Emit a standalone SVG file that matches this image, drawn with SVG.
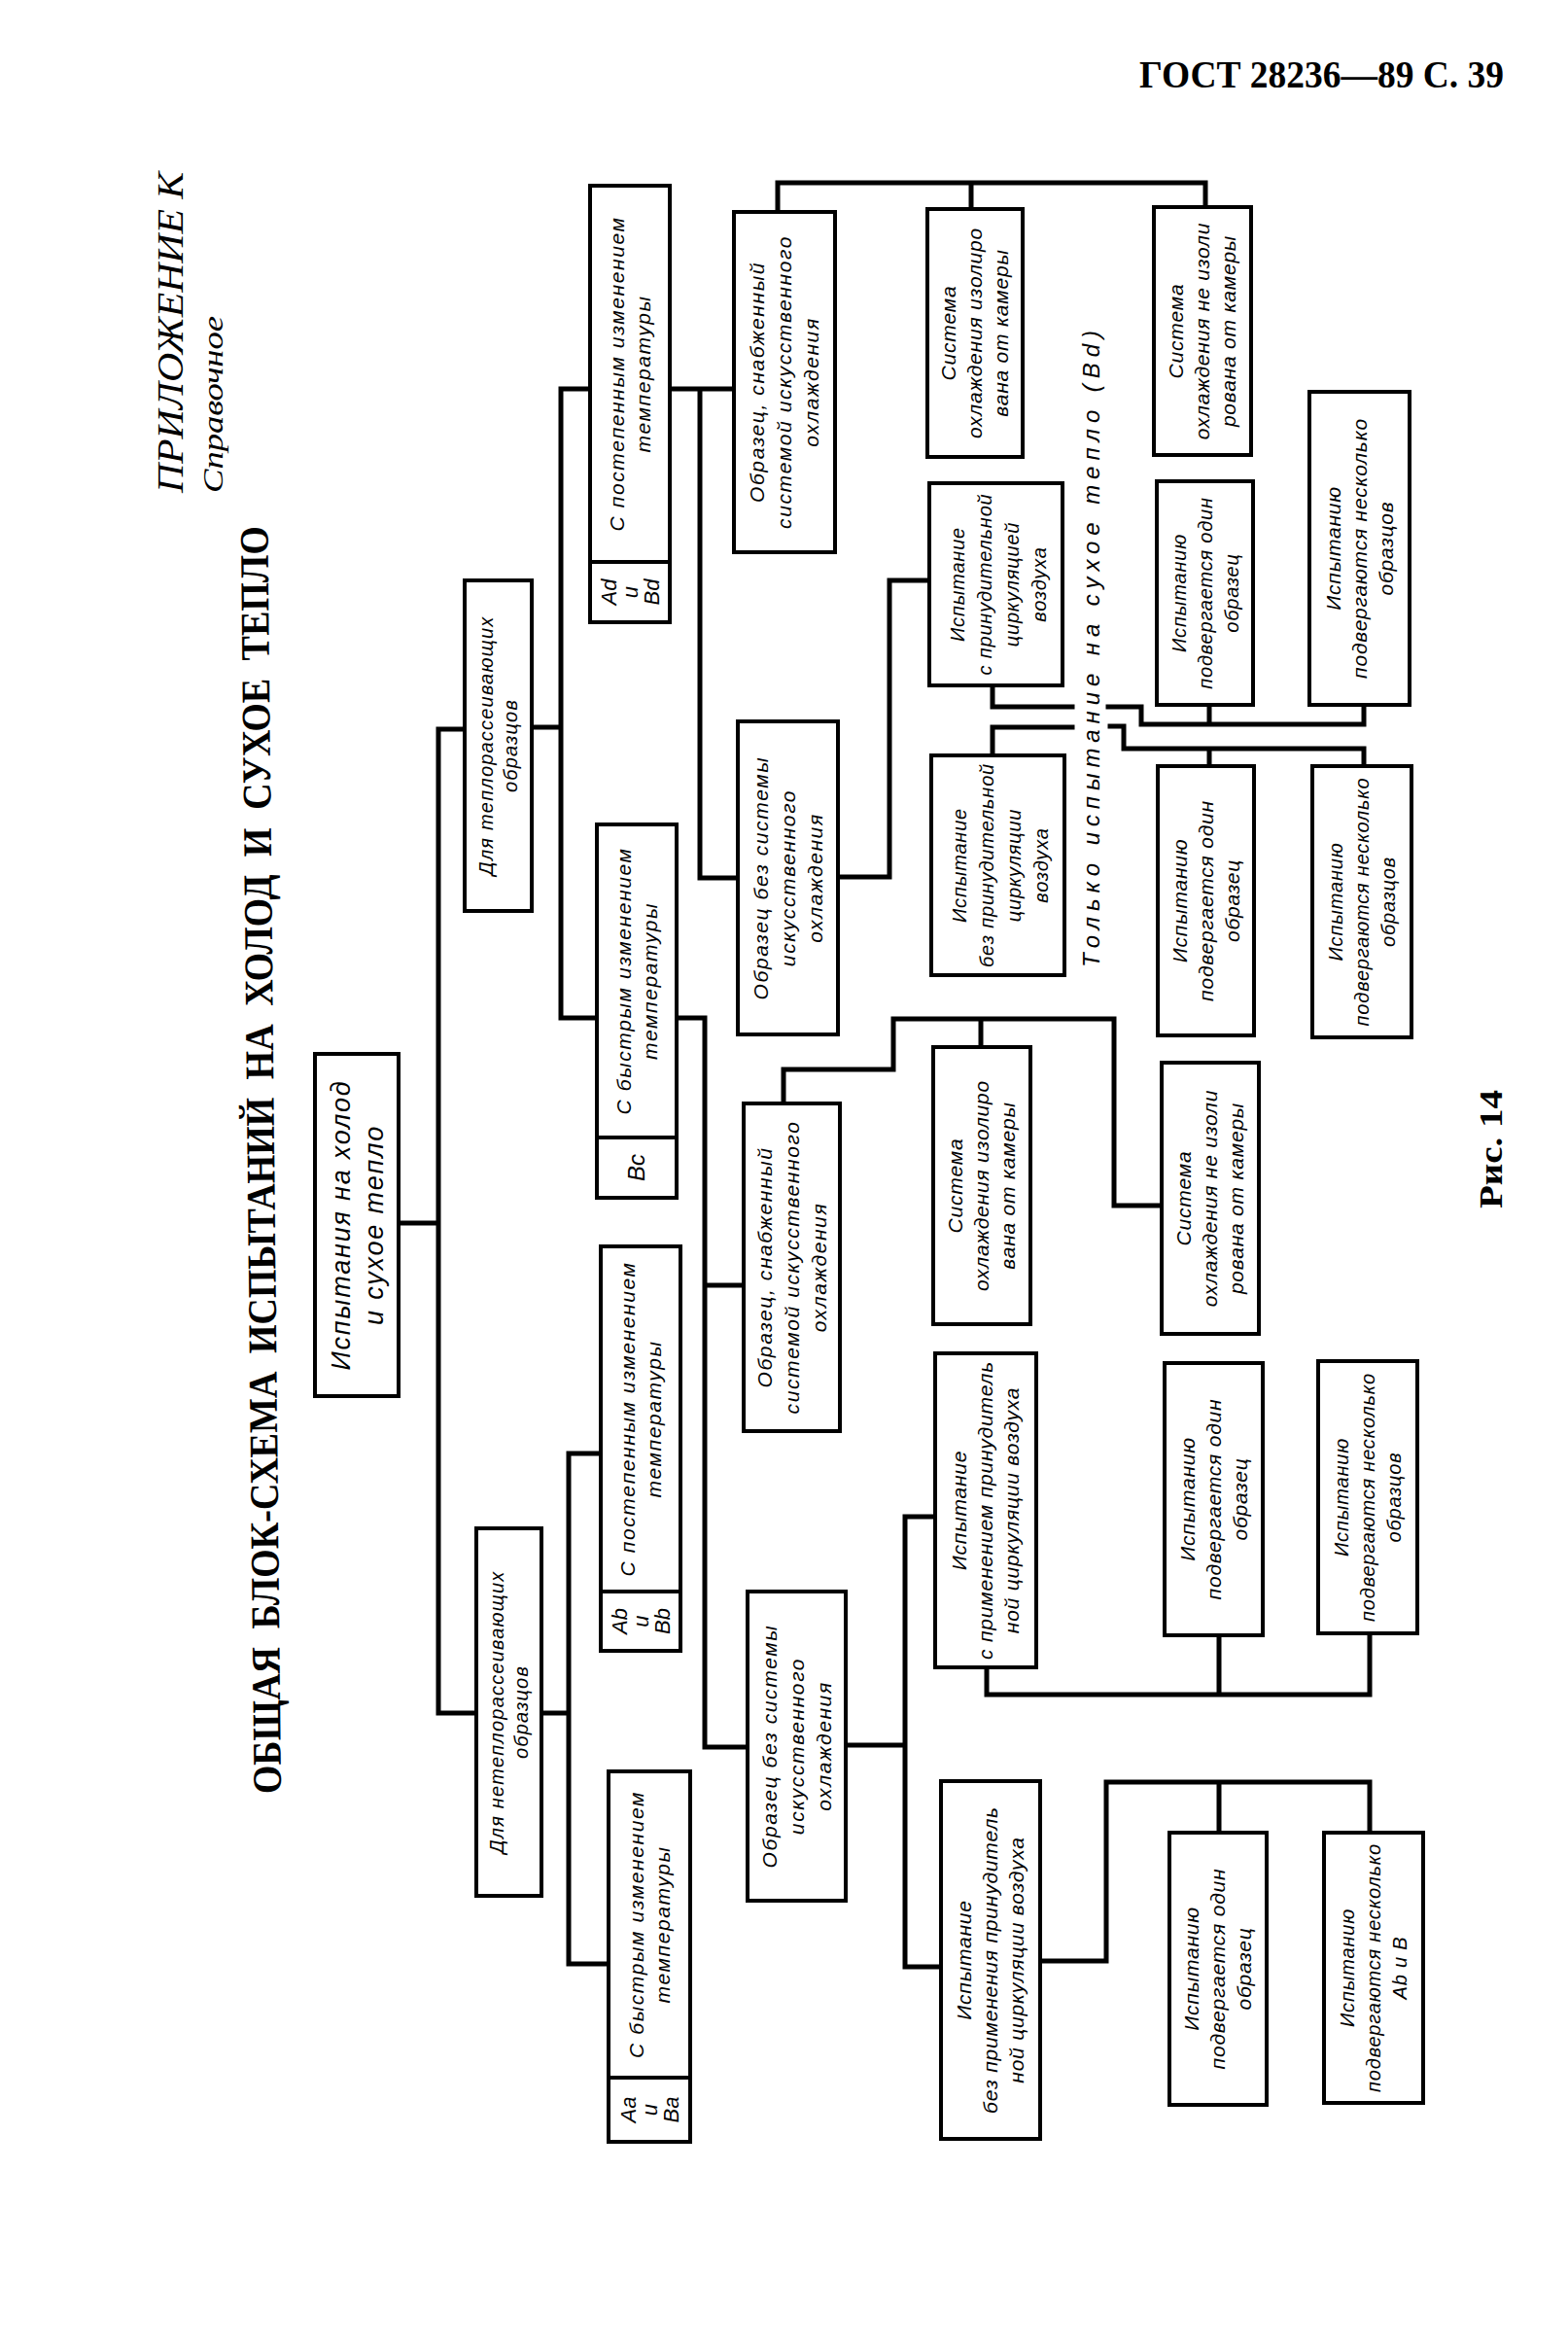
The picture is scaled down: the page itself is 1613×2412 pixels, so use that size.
<svg xmlns="http://www.w3.org/2000/svg" width="1613" height="2412" viewBox="0 0 1613 2412">
<style>
.bg{fill:#fff}
.box{fill:#fff;stroke:#000;stroke-width:4}
.div{stroke:#000;stroke-width:4}
.conn path{fill:none;stroke:#000;stroke-width:5;stroke-linecap:square;stroke-linejoin:miter}
.t{font-family:"Liberation Sans","DejaVu Sans",sans-serif;font-style:italic;font-size:21px;letter-spacing:0.8px;text-anchor:middle;fill:#000}
.w{letter-spacing:1.6px}
.s{font-family:"Liberation Sans","DejaVu Sans",sans-serif;font-style:italic;font-size:22px;text-anchor:middle;fill:#000}
.title{font-family:"Liberation Serif","DejaVu Serif",serif;font-weight:bold;font-size:42px;word-spacing:10px;fill:#000}
.hdr{font-family:"Liberation Serif","DejaVu Serif",serif;font-weight:bold;font-size:40px;fill:#000}
.app{font-family:"Liberation Serif","DejaVu Serif",serif;font-style:italic;fill:#000}
.only{font-family:"Liberation Sans","DejaVu Sans",sans-serif;font-style:italic;font-size:24px;fill:#000}
</style>
<rect class="bg" x="0" y="0" width="1613" height="2412"/>

<text class="hdr" x="1172" y="90" textLength="375" lengthAdjust="spacingAndGlyphs">ГОСТ 28236—89 С. 39</text>
<text class="app" transform="translate(188 507) rotate(-90)" style="font-size:38px" textLength="330" lengthAdjust="spacingAndGlyphs">ПРИЛОЖЕНИЕ К</text>
<text class="app" transform="translate(229 507) rotate(-90)" style="font-size:30px" textLength="182" lengthAdjust="spacingAndGlyphs">Справочное</text>
<text class="title" transform="translate(289 1845) rotate(-90.6)" textLength="1304" lengthAdjust="spacingAndGlyphs">ОБЩАЯ БЛОК-СХЕМА ИСПЫТАНИЙ НА ХОЛОД И СУХОЕ ТЕПЛО</text>
<text class="only" transform="translate(1131 995) rotate(-90)" textLength="655" lengthAdjust="spacing">Только испытание на сухое тепло (Bd)</text>
<text class="hdr" transform="translate(1545 1243) rotate(-90)" style="font-size:34px" textLength="122" lengthAdjust="spacingAndGlyphs">Рис. 14</text>

<g class="conn" id="connectors">
<path d="M410,1258 H451 M451,750 V1762 M451,750 H478 M451,1762 H490"/>
<path d="M547,748 H577 M577,400 V1047 M577,400 H607 M577,1047 H614"/>
<path d="M557,1762 H585 M585,1495 V2020 M585,1495 H618 M585,2020 H626"/>
<path d="M689,400 H755 M720,400 V903 H759"/>
<path d="M696,1047 H725 V1797 H769 M725,1322 H765"/>
<path d="M800,218 V188 H1240 V213 M999,188 V215"/>
<path d="M862,902 H915 M915,597 V902 M915,597 H956"/>
<path d="M1021,705 V727 H1103 M1140,727 H1174 V745 H1403 V725 M1244,745 V725"/>
<path d="M1021,777 V748 H1103 M1142,747 H1156 V770 H1403 V788 M1244,770 V788"/>
<path d="M806,1135 V1100 H919 V1048 H1146 V1240 H1195 M1009,1048 V1077"/>
<path d="M870,1795 H931 M931,1560 V2023 M931,1560 H964 M931,2023 H970"/>
<path d="M1015,1715 V1743 H1409 V1680 M1254,1743 V1682"/>
<path d="M1070,2017 H1138 V1833 H1409 V1885 M1254,1833 V1885"/>
</g>

<g id="root">
<rect class="box" x="324" y="1084" width="86" height="352"/>
<text class="t" style="font-size:27px;letter-spacing:1.8px" transform="translate(367 1260) rotate(-90)"><tspan x="0" y="-7.5">Испытания на холод</tspan><tspan x="0" y="26.5">и сухое тепло</tspan></text>
</g>

<g id="heat-dissipating">
<rect class="box" x="478" y="597" width="69" height="340"/>
<text class="t" style="font-size:20px;letter-spacing:1.2px" transform="translate(512.5 767) rotate(-90)"><tspan x="0" y="-5.5">Для теплорассеивающих</tspan><tspan x="0" y="19.5">образцов</tspan></text>
</g>

<g id="non-heat-dissipating">
<rect class="box" x="490" y="1572" width="67" height="378"/>
<text class="t" style="font-size:20px;letter-spacing:1.2px" transform="translate(523.5 1761) rotate(-90)"><tspan x="0" y="-5.5">Для нетеплорассеивающих</tspan><tspan x="0" y="19.5">образцов</tspan></text>
</g>

<g id="gradual-Ad-Bd">
<rect class="box" x="607" y="191" width="82" height="449"/>
<line class="div" x1="607" y1="578" x2="689" y2="578"/>
<text class="t w" transform="translate(648 384.5) rotate(-90)"><tspan x="0" y="-6.2">С постепенным изменением</tspan><tspan x="0" y="20.8">температуры</tspan></text>
<text class="s" transform="translate(648 609) rotate(-90)"><tspan x="0" y="-14.3">Ad</tspan><tspan x="0" y="7.7">и</tspan><tspan x="0" y="29.7">Bd</tspan></text>
</g>

<g id="rapid-Bc">
<rect class="box" x="614" y="848" width="82" height="384"/>
<line class="div" x1="614" y1="1170" x2="696" y2="1170"/>
<text class="t w" transform="translate(655 1009) rotate(-90)"><tspan x="0" y="-6.2">С быстрым изменением</tspan><tspan x="0" y="20.8">температуры</tspan></text>
<text class="s" style="font-size:24px" transform="translate(655 1201) rotate(-90)"><tspan x="0" y="8.4">Bc</tspan></text>
</g>

<g id="gradual-Ab-Bb">
<rect class="box" x="618" y="1282" width="82" height="416"/>
<line class="div" x1="618" y1="1637" x2="700" y2="1637"/>
<text class="t w" transform="translate(659 1459.5) rotate(-90)"><tspan x="0" y="-6.2">С постепенным изменением</tspan><tspan x="0" y="20.8">температуры</tspan></text>
<text class="s" transform="translate(659 1667.5) rotate(-90)"><tspan x="0" y="-14.3">Ab</tspan><tspan x="0" y="7.7">и</tspan><tspan x="0" y="29.7">Bb</tspan></text>
</g>

<g id="rapid-Aa-Ba">
<rect class="box" x="626" y="1822" width="84" height="381"/>
<line class="div" x1="626" y1="2137" x2="710" y2="2137"/>
<text class="t w" transform="translate(668 1979.5) rotate(-90)"><tspan x="0" y="-6.2">С быстрым изменением</tspan><tspan x="0" y="20.8">температуры</tspan></text>
<text class="s" transform="translate(668 2170) rotate(-90)"><tspan x="0" y="-14.3">Aa</tspan><tspan x="0" y="7.7">и</tspan><tspan x="0" y="29.7">Ba</tspan></text>
</g>

<g id="sample-cooled-1">
<rect class="box" x="755" y="218" width="104" height="350"/>
<text class="t w" transform="translate(807 393) rotate(-90)"><tspan x="0" y="-20.6">Образец, снабженный</tspan><tspan x="0" y="7.4">системой искусственного</tspan><tspan x="0" y="35.4">охлаждения</tspan></text>
</g>
<g id="sample-uncooled-1">
<rect class="box" x="759" y="742" width="103" height="322"/>
<text class="t w" transform="translate(810.5 903) rotate(-90)"><tspan x="0" y="-20.6">Образец без системы</tspan><tspan x="0" y="7.4">искусственного</tspan><tspan x="0" y="35.4">охлаждения</tspan></text>
</g>
<g id="sample-cooled-2">
<rect class="box" x="765" y="1135" width="99" height="337"/>
<text class="t w" transform="translate(814.5 1303.5) rotate(-90)"><tspan x="0" y="-20.6">Образец, снабженный</tspan><tspan x="0" y="7.4">системой искусственного</tspan><tspan x="0" y="35.4">охлаждения</tspan></text>
</g>
<g id="sample-uncooled-2">
<rect class="box" x="769" y="1637" width="101" height="318"/>
<text class="t w" transform="translate(819.5 1796) rotate(-90)"><tspan x="0" y="-20.6">Образец без системы</tspan><tspan x="0" y="7.4">искусственного</tspan><tspan x="0" y="35.4">охлаждения</tspan></text>
</g>

<g id="cooling-insulated-1">
<rect class="box" x="954" y="215" width="98" height="255"/>
<text class="t" transform="translate(1003 342.5) rotate(-90)"><tspan x="0" y="-19.6">Система</tspan><tspan x="0" y="7.4">охлаждения изолиро</tspan><tspan x="0" y="34.4">вана от камеры</tspan></text>
</g>
<g id="forced-air-1">
<rect class="box" x="956" y="497" width="137" height="208"/>
<text class="t" style="font-size:20px" transform="translate(1024.5 601) rotate(-90)"><tspan x="0" y="-33">Испытание</tspan><tspan x="0" y="-5">с принудительной</tspan><tspan x="0" y="23">циркуляцией</tspan><tspan x="0" y="51">воздуха</tspan></text>
</g>
<g id="no-forced-air-1">
<rect class="box" x="958" y="777" width="137" height="226"/>
<text class="t" style="font-size:20px" transform="translate(1026.5 890) rotate(-90)"><tspan x="0" y="-33">Испытание</tspan><tspan x="0" y="-5">без принудительной</tspan><tspan x="0" y="23">циркуляции</tspan><tspan x="0" y="51">воздуха</tspan></text>
</g>
<g id="cooling-insulated-2">
<rect class="box" x="960" y="1077" width="100" height="285"/>
<text class="t" transform="translate(1010 1219.5) rotate(-90)"><tspan x="0" y="-19.6">Система</tspan><tspan x="0" y="7.4">охлаждения изолиро</tspan><tspan x="0" y="34.4">вана от камеры</tspan></text>
</g>
<g id="forced-air-2">
<rect class="box" x="962" y="1392" width="104" height="323"/>
<text class="t" transform="translate(1014 1553.5) rotate(-90)"><tspan x="0" y="-19.6">Испытание</tspan><tspan x="0" y="7.4">с применением принудитель</tspan><tspan x="0" y="34.4">ной циркуляции воздуха</tspan></text>
</g>
<g id="no-forced-air-2">
<rect class="box" x="968" y="1832" width="102" height="368"/>
<text class="t" transform="translate(1019 2016) rotate(-90)"><tspan x="0" y="-19.6">Испытание</tspan><tspan x="0" y="7.4">без применения принудитель</tspan><tspan x="0" y="34.4">ной циркуляции воздуха</tspan></text>
</g>

<g id="cooling-not-insulated-1">
<rect class="box" x="1187" y="213" width="100" height="255"/>
<text class="t" transform="translate(1237 340.5) rotate(-90)"><tspan x="0" y="-19.6">Система</tspan><tspan x="0" y="7.4">охлаждения не изоли</tspan><tspan x="0" y="34.4">рована от камеры</tspan></text>
</g>
<g id="one-sample-1">
<rect class="box" x="1190" y="495" width="99" height="230"/>
<text class="t" style="font-size:20px" transform="translate(1239.5 610) rotate(-90)"><tspan x="0" y="-19.6">Испытанию</tspan><tspan x="0" y="7.4">подвергается один</tspan><tspan x="0" y="34.4">образец</tspan></text>
</g>
<g id="one-sample-2">
<rect class="box" x="1191" y="788" width="99" height="277"/>
<text class="t" transform="translate(1240.5 926.5) rotate(-90)"><tspan x="0" y="-19.6">Испытанию</tspan><tspan x="0" y="7.4">подвергается один</tspan><tspan x="0" y="34.4">образец</tspan></text>
</g>
<g id="cooling-not-insulated-2">
<rect class="box" x="1195" y="1093" width="100" height="279"/>
<text class="t" transform="translate(1245 1232.5) rotate(-90)"><tspan x="0" y="-19.6">Система</tspan><tspan x="0" y="7.4">охлаждения не изоли</tspan><tspan x="0" y="34.4">рована от камеры</tspan></text>
</g>
<g id="one-sample-3">
<rect class="box" x="1198" y="1402" width="101" height="280"/>
<text class="t" transform="translate(1248.5 1542) rotate(-90)"><tspan x="0" y="-19.6">Испытанию</tspan><tspan x="0" y="7.4">подвергается один</tspan><tspan x="0" y="34.4">образец</tspan></text>
</g>
<g id="one-sample-4">
<rect class="box" x="1203" y="1885" width="100" height="280"/>
<text class="t" transform="translate(1253 2025) rotate(-90)"><tspan x="0" y="-19.6">Испытанию</tspan><tspan x="0" y="7.4">подвергается один</tspan><tspan x="0" y="34.4">образец</tspan></text>
</g>

<g id="several-samples-1">
<rect class="box" x="1347" y="403" width="103" height="322"/>
<text class="t" transform="translate(1398.5 564) rotate(-90)"><tspan x="0" y="-19.6">Испытанию</tspan><tspan x="0" y="7.4">подвергаются несколько</tspan><tspan x="0" y="34.4">образцов</tspan></text>
</g>
<g id="several-samples-2">
<rect class="box" x="1350" y="788" width="102" height="279"/>
<text class="t" style="font-size:20px" transform="translate(1401 927.5) rotate(-90)"><tspan x="0" y="-19.6">Испытанию</tspan><tspan x="0" y="7.4">подвергаются несколько</tspan><tspan x="0" y="34.4">образцов</tspan></text>
</g>
<g id="several-samples-3">
<rect class="box" x="1356" y="1400" width="102" height="280"/>
<text class="t" style="font-size:20px" transform="translate(1407 1540) rotate(-90)"><tspan x="0" y="-19.6">Испытанию</tspan><tspan x="0" y="7.4">подвергаются несколько</tspan><tspan x="0" y="34.4">образцов</tspan></text>
</g>
<g id="several-samples-4">
<rect class="box" x="1362" y="1885" width="102" height="278"/>
<text class="t" style="font-size:20px" transform="translate(1413 2024) rotate(-90)"><tspan x="0" y="-19.6">Испытанию</tspan><tspan x="0" y="7.4">подвергаются несколько</tspan><tspan x="0" y="34.4">Ab и B</tspan></text>
</g>
</svg>
